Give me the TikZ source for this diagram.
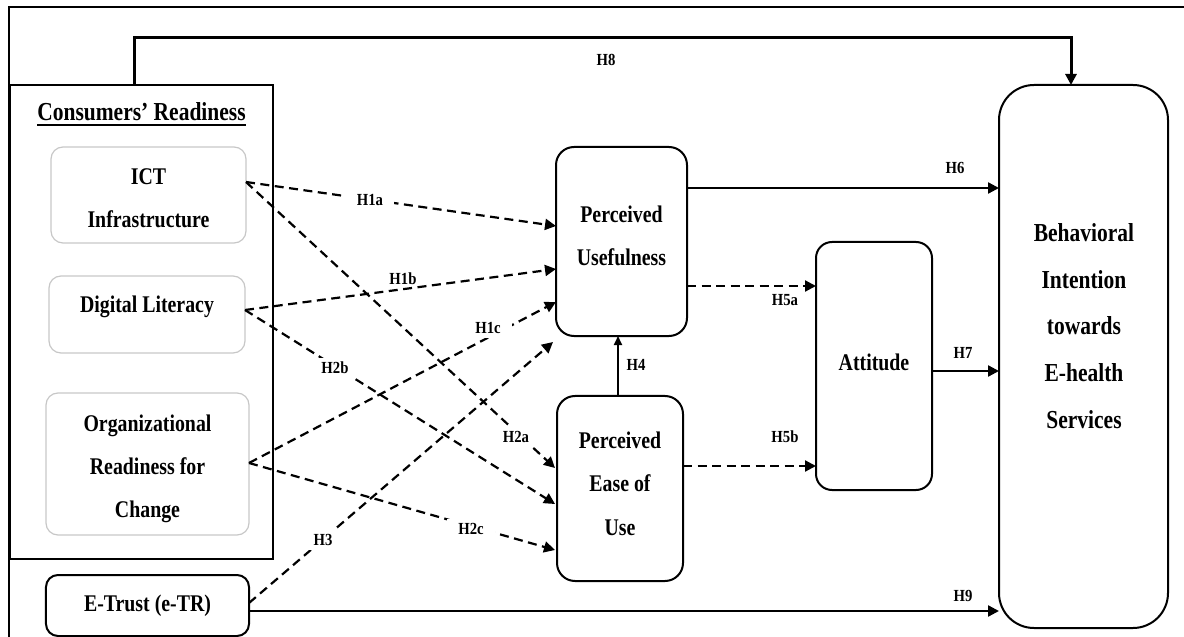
\documentclass[tikz,border=0pt]{standalone}
\usepackage{fontspec}
\setmainfont{Liberation Serif}
\newfontfamily\boxfont{Liberation Serif}[FakeStretch=0.83]
\newfontfamily\tagfont{Liberation Serif}[FakeStretch=0.87]
\usetikzlibrary{arrows.meta,calc}

\tikzset{
  every node/.style={inner sep=0pt, outer sep=0pt},
  frame/.style={line width=2bp},
  crbox/.style={draw, line width=2.2bp},
  softbox/.style={draw=black!22, line width=1.2bp, rounded corners=12bp},
  hardbox/.style={draw, line width=2bp},
  boxtext/.style={font=\boxfont\bfseries\fontsize{24}{43.5}\selectfont, align=center},
  bitext/.style={font=\boxfont\bfseries\fontsize{26}{47}\selectfont, align=center},
  titletext/.style={font=\boxfont\bfseries\fontsize{26}{30}\selectfont},
  solidarrow/.style={line width=2.4bp, -{Triangle[length=11bp,width=11bp]}},
  dasharrow/.style={solidarrow, line width=2.2bp, dash pattern=on 9bp off 5.5bp},
  tag/.style={font=\tagfont\bfseries\fontsize{17}{20}\selectfont},
  tagcut/.style={tag, fill=white, inner xsep=11bp, inner ysep=4bp},
}

\begin{document}
\begin{tikzpicture}[x=1bp, y=-1bp]
\useasboundingbox (0,0) rectangle (1184,637);

% outer frame (left and top edges)
\draw[frame] (9,637) -- (9,7) -- (1184,7);

% consumers' readiness group
\node[crbox, minimum width=263bp, minimum height=474bp] (CR) at (141.5,322) {};
\node[titletext] (CRt) at (141.5,112) {Consumers’ Readiness};
\draw[line width=2bp] ($(CRt.base west)+(0,4)$) -- ($(CRt.base east)+(0,4)$);

\node[softbox, minimum width=195bp, minimum height=96bp] (ICT) at (148.5,195) {};
\node[boxtext] (ICTt) at (148.5,198.5) {ICT\\Infrastructure};
\node[softbox, minimum width=196bp, minimum height=77bp] (DL) at (147,314.5) {};
\node[boxtext] (DLt) at (147,307) {Digital Literacy};
\node[softbox, minimum width=203bp, minimum height=142bp] (ORC) at (147.5,464) {};
\node[boxtext] (ORCt) at (147.5,469) {Organizational\\Readiness for\\Change};

% trust
\node[hardbox, rounded corners=12bp, minimum width=203bp, minimum height=61bp] (ET) at (147.5,605.5) {};
\node[boxtext] (ETt) at (147.5,606) {E-Trust (e-TR)};

% mediators and outcome
\node[hardbox, rounded corners=18bp, minimum width=131bp, minimum height=189bp] (PU) at (621.5,241.5) {};
\node[boxtext] (PUt) at (621.5,236) {Perceived\\Usefulness};
\node[hardbox, rounded corners=18bp, minimum width=126bp, minimum height=185bp] (PEOU) at (620,488.5) {};
\node[boxtext] (PEOUt) at (620,483.5) {Perceived\\Ease of\\Use};
\node[hardbox, rounded corners=16bp, minimum width=116bp, minimum height=248bp] (ATT) at (874,366) {};
\node[boxtext] (ATTt) at (874,362) {Attitude};
\node[hardbox, rounded corners=35bp, minimum width=169bp, minimum height=543bp] (BI) at (1083.5,356.5) {};
\node[bitext] (BIt) at (1084,326) {Behavioral\\Intention\\towards\\E-health\\Services};

% connector end points
\coordinate (ictout) at ($(ICT.east)+(0,-13)$);
\coordinate (dlout) at ($(DL.east)+(0,-4.5)$);
\coordinate (orcout) at ($(ORC.east)+(0,-1)$);
\coordinate (etout1) at ($(ET.east)+(0,-2.5)$);
\coordinate (etout2) at ($(ET.east)+(0,5.5)$);
\coordinate (pu6) at ($(PU.east)+(0,-53.5)$);
\coordinate (pu5) at ($(PU.east)+(0,44.5)$);
\coordinate (pe5) at ($(PEOU.east)+(0,-22.5)$);
\coordinate (att7) at ($(ATT.east)+(0,5)$);
\coordinate (pe4) at ($(PEOU.north)+(-2,0)$);
\coordinate (cr8) at ($(CR.north west)+(125,0)$);

% hypotheses
\draw[dasharrow] (ictout) -- ($(PU.west)+(0,-15.5)$);        % H1a
\draw[dasharrow] (ictout) -- ($(PEOU.west)+(-2,-20.5)$);     % H2a
\draw[dasharrow] (dlout) -- ($(PU.west)+(0,27.5)$);          % H1b
\draw[dasharrow] (dlout) -- ($(PEOU.west)+(-2,15.5)$);       % H2b
\draw[dasharrow] (orcout) -- ($(PU.west)+(0,60.5)$);         % H1c
\draw[dasharrow] (orcout) -- ($(PEOU.west)+(-2,61.5)$);      % H2c
\draw[dasharrow] (etout1) -- ($(PU.south west)+(-3,6)$);     % H3
\draw[solidarrow, line width=2bp, -{Triangle[length=9bp,width=8bp]}] (pe4) -- (pe4 |- PU.south); % H4
\draw[dasharrow] (pu5) -- (pu5 -| ATT.west);                 % H5a
\draw[dasharrow] (pe5) -- (pe5 -| ATT.west);                 % H5b
\draw[solidarrow] (pu6) -- (pu6 -| BI.west);                 % H6
\draw[solidarrow] (att7) -- (att7 -| BI.west);               % H7
\draw[solidarrow, line width=3bp] (cr8) -- ++(0,-47) -| ($(BI.north)+(-12.5,0)$); % H8
\draw[solidarrow] (etout2) -- (etout2 -| BI.west);           % H9

% hypothesis labels
\node[tag] (L8) at (606,60) {H8};
\node[tagcut] (L1a) at (370,200) {H1a};
\node[tag] (L1b) at (403,279) {H1b};
\node[tagcut] (L1c) at (488,328) {H1c};
\node[tagcut] (L2a) at (516,437) {H2a};
\node[tagcut] (L2b) at (335,368) {H2b};
\node[tagcut] (L2c) at (471,529) {H2c};
\node[tagcut] (L3) at (323,540) {H3};
\node[tag] (L4) at (636,365) {H4};
\node[tag] (L5a) at (785,300) {H5a};
\node[tag] (L5b) at (785,437) {H5b};
\node[tag] (L6) at (955,168) {H6};
\node[tag] (L7) at (963,353) {H7};
\node[tag] (L9) at (963,596) {H9};
\end{tikzpicture}
\end{document}
